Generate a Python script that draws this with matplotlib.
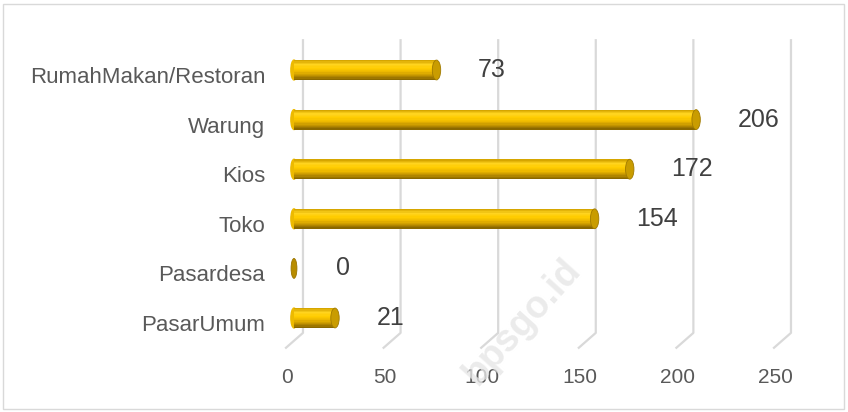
import numpy as np
import matplotlib.pyplot as plt
from matplotlib.patches import Ellipse, Rectangle
from matplotlib.colors import LinearSegmentedColormap

# --- donnees ---
categories = ["PasarUmum", "Pasardesa", "Toko", "Kios", "Warung", "RumahMakan/Restoran"]
values = [21, 0, 154, 172, 206, 73]
ticks = [0, 50, 100, 150, 200, 250]

plt.rcParams['font.family'] = ['Liberation Sans', 'DejaVu Sans']
txt_col = "#595959"
grid_col = "#D9D9D9"

W, H = 848, 412
fig = plt.figure(figsize=(W / 100, H / 100), dpi=100)
# axe : x=0 a 294 px, 250 -> 488 px ; categories espacees de 49.6 px
ax = fig.add_axes([294 / W, 69.2 / H, 488 / W, 297.6 / H])
ax.set_xlim(0, 250)
ax.set_ylim(-0.5, 5.5)
ax.axis("off")

# grille "3D" : ligne verticale au fond + petit biais vers l'avant
for v in ticks:
    ax.plot([v + 4.6, v + 4.6, v - 4.1], [5.6, -0.30, -0.60],
            color=grid_col, lw=1.6, clip_on=False, zorder=1)
    ax.text(v - 3.6, -1.19, str(v), ha="center", va="center",
            fontsize=15, color=txt_col, clip_on=False)

# cylindres : degrade en bandes horizontales
cmap = LinearSegmentedColormap.from_list(
    "or", ["#D6A600", "#FFD41F", "#FFCC00", "#EDB900", "#C29300", "#8A6800"])
bh = 0.40
n = 16
cap_w = 4.3
y = np.arange(len(categories))
for i, v in enumerate(values):
    if v > 0:
        ax.add_patch(Ellipse((0, y[i]), 3.2, bh, color="#EDBA00",
                             zorder=2, clip_on=False))
        for k in range(n):
            y0 = y[i] + bh / 2 - (k + 1) * bh / n
            ax.barh(y0, v, height=bh / n, align="edge",
                    color=cmap(k / (n - 1)), lw=0, zorder=3)
        ax.add_patch(Ellipse((v, y[i]), cap_w, bh, facecolor="#C99C00",
                             edgecolor="#A07A00", lw=0.6, zorder=4))
    else:
        ax.add_patch(Ellipse((v, y[i]), 3.0, bh, facecolor="#B88C00",
                             edgecolor="#9A7400", lw=0.6, zorder=4, clip_on=False))
    ax.annotate(str(v), (v, y[i]), xytext=(30, 0), textcoords="offset points",
                ha="left", va="center", fontsize=18, color="#404040")
    ax.text(-0.059, y[i] - 0.15, categories[i], transform=ax.get_yaxis_transform(),
            ha="right", va="center", fontsize=16, color=txt_col)

# filigrane
fig.text(522 / W, 1 - 322 / H, "bpsgo.id", rotation=48, ha="center", va="center",
         fontsize=27, fontweight="bold", color="#E6E6E6", alpha=0.8, zorder=0)

# cadre
fig.add_artist(Rectangle((3 / W, 3 / H), 1 - 7 / W, 1 - 7 / H,
                         transform=fig.transFigure, fill=False,
                         edgecolor=grid_col, lw=1))

fig.savefig("out.png", dpi=100)
